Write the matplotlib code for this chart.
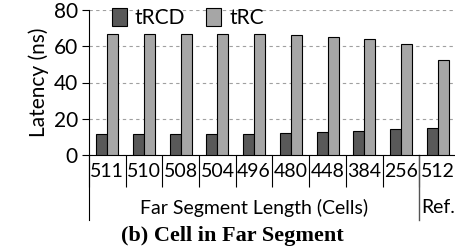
import numpy as np
import matplotlib.pyplot as plt

plt.rcParams['font.family'] = ['Lato', 'DejaVu Sans']

# data
segments = ["511", "510", "508", "504", "496", "480", "448", "384", "256", "512"]
trcd = [11.4, 11.4, 11.4, 11.4, 11.4, 12.0, 12.5, 13.2, 14.3, 14.9]
trc = [66.6, 66.6, 66.6, 66.6, 66.6, 66.0, 64.9, 64.2, 61.0, 52.4]

x = np.arange(len(segments))
w = 0.3

fig = plt.figure(figsize=(4.56, 2.5), dpi=100)
ax = fig.add_axes([89/456, 95/250, 1 - 89/456, 145/250])

ax.bar(x - w/2, trcd, w, color="#595959", edgecolor="black", linewidth=0.8, label="tRCD", zorder=3)
ax.bar(x + w/2, trc, w, color="#a6a6a6", edgecolor="black", linewidth=0.8, label="tRC", zorder=3)

ax.set_xlim(-0.5, len(segments) - 0.5)
ax.set_ylim(0, 80)
ax.set_yticks([0, 20, 40, 60, 80])
ax.tick_params(axis="y", labelsize=15, length=5, width=0.8, pad=3)
ax.set_ylabel("Latency (ns)", fontsize=15, labelpad=3)
ax.yaxis.grid(True, linestyle=(0, (3, 3)), color="#a0a0a0", linewidth=0.8, zorder=0)

for s in ["top", "right"]:
    ax.spines[s].set_visible(False)

# category labels and short separators
ax.set_xticks(x)
ax.set_xticklabels(segments, fontsize=14)
ax.tick_params(axis="x", length=0, pad=6)
ax.set_xticks(np.arange(len(segments) + 1) - 0.5, minor=True)
ax.tick_params(axis="x", which="minor", length=23, width=0.8, color="black")

# long group separators
tr = ax.get_xaxis_transform()
ax.plot([-0.5, -0.5], [0, -0.45], color="black", lw=0.8, transform=tr, clip_on=False)
ax.plot([8.5, 8.5], [0, -0.45], color="#555555", lw=1.0, transform=tr, clip_on=False)
ax.text(4.0, -0.365, "Far Segment Length (Cells)", transform=tr, ha="center", va="center", fontsize=14)
ax.text(8.55, -0.365, "Ref.", transform=tr, ha="left", va="center", fontsize=14)

fig.text(232/456, 1 - 236/250, "(b) Cell in Far Segment", ha="center", va="center",
         fontsize=16, fontweight="bold", family="Liberation Serif")

ax.legend(loc="upper left", bbox_to_anchor=(0.04, 1.07), ncol=2, frameon=False, fontsize=15,
          handlelength=0.7, handleheight=0.9, handletextpad=0.4, columnspacing=1.0, borderaxespad=0)

fig.savefig("out.png", dpi=100)
